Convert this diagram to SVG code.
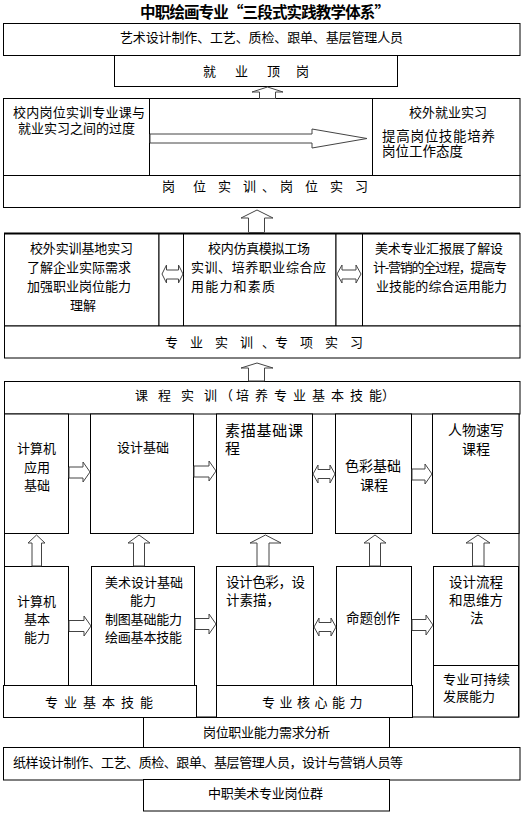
<svg xmlns="http://www.w3.org/2000/svg" width="524" height="816" viewBox="0 0 524 816">
<defs>
<style>
.b{fill:#fff;stroke:#000;stroke-width:1}
.f{fill:none;stroke:#000;stroke-width:1}
.a{fill:#fff;stroke:#444;stroke-width:1;stroke-linejoin:miter}
.t{font-family:"Noto Sans CJK SC","Noto Sans CJK JP",sans-serif;font-size:13px;fill:#000}
.m{font-size:14px}
.s{font-size:13.5px}
.l{font-size:15px}
.h{font-size:15.5px;font-weight:bold}
</style>
</defs>
<rect width="524" height="816" fill="#fff"/>

<g id="n_title"><text class="t h" x="140" y="17.5" textLength="250">中职绘画专业“三段式实践教学体系”</text></g>

<g id="n_top_jobs"><rect class="b" x="3.5" y="23.5" width="516.5" height="32"/>
<text class="t" x="120" y="42" textLength="283">艺术设计制作、工艺、质检、跟单、基层管理人员</text></g>

<g id="n_jiuye"><rect class="b" x="114.5" y="55.5" width="283" height="31"/>
<text class="t" x="203 235 267 296" y="76">就业顶岗</text></g>

<g id="n_trans_left"><rect class="b" x="3.5" y="98.5" width="146" height="77"/>
<text class="t" x="13" y="117" textLength="132">校内岗位实训专业课与</text>
<text class="t" x="18" y="133">就业实习之间的过度</text></g>
<g id="n_trans_mid"><rect class="b" x="149.5" y="98.5" width="223" height="77"/></g>
<g id="n_trans_right"><rect class="b" x="372.5" y="98.5" width="147.5" height="77"/>
<text class="t" x="409" y="117">校外就业实习</text>
<text class="t s" x="382" y="140.5" textLength="113">提高岗位技能培养</text>
<text class="t s" x="382" y="155.5">岗位工作态度</text></g>

<g id="n_gangwei"><rect class="b" x="3.5" y="175.5" width="516.5" height="32"/>
<text class="t" x="162 193 218 243 262 280 305 330 355" y="191">岗位实训、岗位实习</text></g>

<g id="n_r3_left"><rect class="b" x="4.5" y="233.5" width="154.5" height="92.5"/>
<text class="t" x="30" y="253" textLength="103">校外实训基地实习</text>
<text class="t" x="27" y="272" textLength="104">了解企业实际需求</text>
<text class="t" x="27" y="290.5" textLength="104">加强职业岗位能力</text>
<text class="t" x="70" y="309.5">理解</text></g>
<g id="n_r3_gap1"><rect class="b" x="159" y="233.5" width="24.5" height="92.5"/></g>
<g id="n_r3_mid"><rect class="b" x="183.5" y="233.5" width="152.5" height="92.5"/>
<text class="t" x="208" y="253" textLength="102">校内仿真模拟工场</text>
<text class="t" x="191" y="272" textLength="135">实训、培养职业综合应</text>
<text class="t" x="191" y="290.5" textLength="84">用能力和素质</text></g>
<g id="n_r3_gap2"><rect class="b" x="336" y="233.5" width="26.5" height="92.5"/></g>
<g id="n_r3_right"><rect class="b" x="362.5" y="233.5" width="157.5" height="92.5"/>
<text class="t" x="375" y="253" textLength="128">美术专业汇报展了解设</text>
<text class="t" x="373" y="272" textLength="134">计-营销的全过程，提高专</text>
<text class="t" x="376" y="290.5" textLength="131">业技能的综合运用能力</text></g>
<line x1="4" y1="233.5" x2="520" y2="233.5" stroke="#000" stroke-width="2"/>

<g id="n_zhuanye"><rect class="b" x="4.5" y="326" width="515.5" height="32"/>
<text class="t" x="165 190 215 240 262 275 300 325 350" y="347">专业实训、专项实习</text></g>

<g id="n_frame"><rect class="f" x="4.5" y="381.5" width="514.5" height="335.5"/></g>
<g id="n_kecheng"><rect class="b" x="4.5" y="381.5" width="515.5" height="32.5"/>
<text class="t" x="135 158 181 204 220 236 255 274 293 312 331 350 369 382" y="400">课程实训（培养专业基本技能）</text></g>

<g id="n_c1a"><rect class="b" x="4.5" y="414" width="64" height="119.5"/>
<text class="t" x="17" y="453">计算机</text>
<text class="t" x="24" y="471.5">应用</text>
<text class="t" x="24" y="490">基础</text></g>
<g id="n_c2a"><rect class="b" x="90.5" y="414" width="103" height="119.5"/>
<text class="t" x="117" y="452">设计基础</text></g>
<g id="n_c3a"><rect class="b" x="216.5" y="414" width="96" height="119.5"/>
<text class="t l" x="225" y="435.5" textLength="78">素描基础课</text>
<text class="t l" x="225" y="454">程</text></g>
<g id="n_c4a"><rect class="b" x="335.5" y="414" width="76" height="119.5"/>
<text class="t m" x="345" y="471">色彩基础</text>
<text class="t m" x="360" y="490">课程</text></g>
<g id="n_c5a"><rect class="b" x="432.5" y="414" width="86.5" height="119.5"/>
<text class="t m" x="448" y="435">人物速写</text>
<text class="t m" x="462" y="453.5">课程</text></g>

<g id="n_c1b"><rect class="b" x="4.5" y="566.5" width="64" height="119"/>
<text class="t" x="17" y="606">计算机</text>
<text class="t" x="24" y="623.5">基本</text>
<text class="t" x="24" y="642">能力</text></g>
<g id="n_c2b"><rect class="b" x="91.5" y="566.5" width="103" height="119"/>
<text class="t" x="105" y="587" textLength="78">美术设计基础</text>
<text class="t" x="130" y="605">能力</text>
<text class="t" x="105" y="623.5" textLength="77">制图基础能力</text>
<text class="t" x="105" y="642" textLength="77">绘画基本技能</text></g>
<g id="n_c3b"><rect class="b" x="216.5" y="566.5" width="97" height="119"/>
<text class="t s" x="226" y="587" textLength="79">设计色彩，设</text>
<text class="t s" x="226" y="605">计素描，</text></g>
<g id="n_c4b"><rect class="b" x="336.5" y="566.5" width="75" height="119"/>
<text class="t s" x="346" y="623" textLength="54">命题创作</text></g>
<g id="n_c5b"><rect class="b" x="433.5" y="566.5" width="85" height="99"/>
<text class="t s" x="449" y="587" textLength="54">设计流程</text>
<text class="t s" x="449" y="605" textLength="54">和思维方</text>
<text class="t s" x="470" y="623">法</text></g>
<g id="n_c5c"><rect class="b" x="433.5" y="665.5" width="85" height="51.5"/>
<text class="t" x="443" y="683.5" textLength="67">专业可持续</text>
<text class="t" x="443" y="700.5">发展能力</text></g>

<g id="n_jiben"><rect class="b" x="3.5" y="685.5" width="193" height="32"/>
<text class="t" x="45 64 83 102 121 140" y="707">专业基本技能</text></g>
<g id="n_hexin"><rect class="b" x="216.5" y="685.5" width="196" height="32"/>
<text class="t" x="262 279.5 297 314.5 332 349.5" y="707">专业核心能力</text></g>

<g id="n_xuqiu"><rect class="b" x="143.5" y="717.5" width="246" height="30"/>
<text class="t" x="203" y="737" textLength="127">岗位职业能力需求分析</text></g>
<g id="n_zhiyang"><rect class="b" x="3.5" y="747.5" width="516.5" height="32.5"/>
<text class="t" x="13" y="767" textLength="390">纸样设计制作、工艺、质检、跟单、基层管理人员，设计与营销人员等</text></g>
<g id="n_gangweiqun"><rect class="b" x="143.5" y="779.5" width="246" height="31.5"/>
<text class="t" x="208" y="798" textLength="115">中职美术专业岗位群</text></g>

<g id="connectors">
<polygon class="a" points="259.5,98.5 259.5,92 252,92 267.5,87 283,92 275.5,92 275.5,98.5"/>
<polygon class="a" points="150,134 312,134 312,129 367,138.5 312,148 312,143 150,143"/>
<polygon class="a" points="248.5,232.5 248.5,218 241,218 257,210 273,218 264.5,218 264.5,232.5"/>
<polygon class="a" points="162,274 166.5,265 166.5,270 178.5,270 178.5,265 183,274 178.5,283 178.5,279 166.5,279 166.5,283"/>
<polygon class="a" points="337,274 342,265 342,270 356,270 356,265 361,274 356,283 356,279 342,279 342,283"/>
<polygon class="a" points="248.5,381 248.5,368 241,368 257,363 273,368 264.5,368 264.5,381"/>

<polygon class="a" points="69,467 83,467 83,462 90,472 83,482 83,478 69,478"/>
<polygon class="a" points="194,466 209,466 209,461 216,471 209,481 209,477 194,477"/>
<polygon class="a" points="313,474 318,465 318,469.5 330,469.5 330,465 335,474 330,483 330,478.5 318,478.5 318,483"/>
<polygon class="a" points="412,469 425,469 425,464 432,474 425,484 425,480 412,480"/>

<polygon class="a" points="69,620.5 84,620.5 84,616 91,626 84,636 84,631.5 69,631.5"/>
<polygon class="a" points="195,618.5 209,618.5 209,614 216,624 209,634 209,629.5 195,629.5"/>
<polygon class="a" points="314,627 319,618 319,622.5 331,622.5 331,618 336,627 331,636 331,631.5 319,631.5 319,636"/>
<polygon class="a" points="412,619.5 426,619.5 426,615 433,625 426,635 426,630.5 412,630.5"/>

<polygon class="a" points="32,566 32,543 28,543 36.5,535 45,543 41.5,543 41.5,566"/>
<polygon class="a" points="133.5,566 133.5,543 128,543 139,535 150,543 144.5,543 144.5,566"/>
<polygon class="a" points="257,566 257,543 250,543 265.5,535 281,543 269,543 269,566"/>
<polygon class="a" points="369.5,566 369.5,543 364,543 375,535 386,543 380.5,543 380.5,566"/>
<polygon class="a" points="472.5,566 472.5,543 466,543 478,535 490,543 484,543 484,566"/>
</g>
</svg>
